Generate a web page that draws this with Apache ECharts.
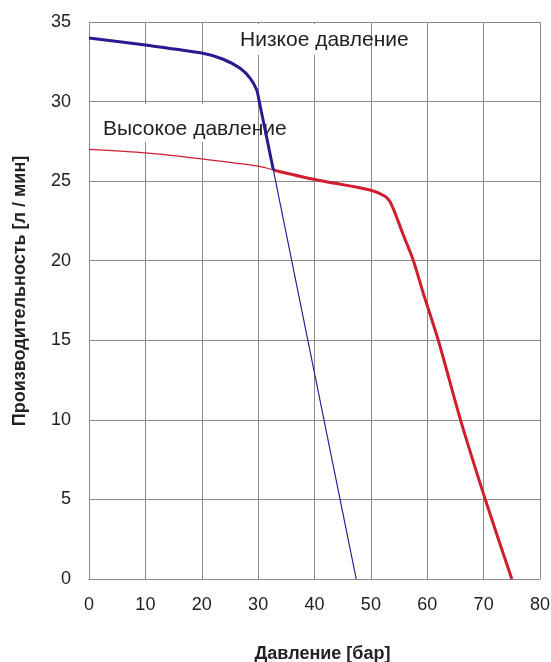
<!DOCTYPE html>
<html>
<head>
<meta charset="utf-8">
<script src="https://cdn.jsdelivr.net/npm/echarts@6/dist/echarts.min.js"></script>
<style>
html,body{margin:0;padding:0;background:#fff;}
#c{width:551px;height:662px;}
</style>
</head>
<body>
<div id="c"></div>
<script>
// Axis settings
var xTicks = [0, 10, 20, 30, 40, 50, 60, 70, 80];
var yTicks = [0, 5, 10, 15, 20, 25, 30, 35];
var xTitle = 'Давление [бар]';
var yTitle = 'Производительность [л / мин]';
var lowLabel = 'Низкое давление';
var highLabel = 'Высокое давление';

// Low pressure curve (blue): thick part, then thin part
var lowThickX = [0, 10, 20, 23.8, 26.8, 28.6, 29.75, 30.15, 32.7];
var lowThickY = [34.0, 33.55, 33.05, 32.66, 32.09, 31.46, 30.73, 30.1, 25.7];
var lowThinX = [32.7, 47.4];
var lowThinY = [25.7, 0];

// High pressure curve (red): thin part, then thick part
var highThinX = [0, 10, 20, 30, 32.7];
var highThinY = [27.0, 26.78, 26.4, 25.94, 25.7];
var highThickX = [32.7, 40, 49.85, 52.5, 53.4, 54.3, 55.75, 57.5, 59.3, 61.96, 65.9, 70.3, 75];
var highThickY = [25.7, 25.1, 24.44, 24.05, 23.71, 22.98, 21.62, 20.05, 17.95, 15.0, 10.0, 5.0, 0];

function zip(xs, ys) { return xs.map(function (x, i) { return [x, ys[i]]; }); }

var BLUE = '#2b1990';
var RED = '#cf1f2e';
var GRIDC = '#8a8a8a';
var FONT = '"Liberation Sans", Arial, sans-serif';

var chart = echarts.init(document.getElementById('c'), null, {renderer: 'canvas'});
chart.setOption({
  animation: false,
  backgroundColor: '#fff',
  grid: {left: 89, right: 11, top: 22, bottom: 83, containLabel: false, outerBoundsMode: 'none'},
  xAxis: {
    type: 'value', min: xTicks[0], max: xTicks[xTicks.length - 1], interval: 10,
    name: xTitle, nameLocation: 'middle', nameGap: 66,
    nameTextStyle: {fontFamily: FONT, fontWeight: 'bold', fontSize: 18, color: '#222', padding: [0, 0, 0, 16]},
    axisLine: {show: true, lineStyle: {color: GRIDC, width: 1}},
    axisTick: {show: false},
    axisLabel: {fontFamily: FONT, fontSize: 18, color: '#222', margin: 17},
    splitLine: {show: true, lineStyle: {color: GRIDC, width: 1}}
  },
  yAxis: {
    type: 'value', min: yTicks[0], max: yTicks[yTicks.length - 1], interval: 5,
    name: yTitle, nameLocation: 'middle', nameGap: 60, nameRotate: 90,
    nameTextStyle: {fontFamily: FONT, fontWeight: 'bold', fontSize: 18, color: '#222', padding: [0, 0, 0, 19]},
    axisLine: {show: true, lineStyle: {color: GRIDC, width: 1}},
    axisTick: {show: false},
    axisLabel: {fontFamily: FONT, fontSize: 18, color: '#222', margin: 18},
    splitLine: {show: true, lineStyle: {color: GRIDC, width: 1}}
  },
  graphic: [
    {type: 'rect', z: 1, shape: {x: 236, y: 24, width: 108, height: 31}, style: {fill: '#fff'}},
    {type: 'rect', z: 1, shape: {x: 100, y: 104, width: 150, height: 38}, style: {fill: '#fff'}},
    {type: 'text', z: 1, x: 240, y: 40, style: {text: lowLabel, fontFamily: FONT, fontSize: 21, fill: '#222', verticalAlign: 'middle', align: 'left'}},
    {type: 'text', z: 1, x: 103, y: 129, style: {text: highLabel, fontFamily: FONT, fontSize: 21, fill: '#222', verticalAlign: 'middle', align: 'left'}}
  ],
  series: [
    {type: 'line', data: zip(lowThickX, lowThickY), smooth: 0.25, showSymbol: false, lineStyle: {color: BLUE, width: 3}, z: 3},
    {type: 'line', data: zip(lowThinX, lowThinY), showSymbol: false, lineStyle: {color: BLUE, width: 1.2}, z: 3},
    {type: 'line', data: zip(highThinX, highThinY), smooth: 0.25, showSymbol: false, lineStyle: {color: RED, width: 1.2}, z: 2},
    {type: 'line', data: zip(highThickX, highThickY), smooth: 0.3, showSymbol: false, lineStyle: {color: RED, width: 3}, z: 2}
  ]
});
</script>
</body>
</html>
